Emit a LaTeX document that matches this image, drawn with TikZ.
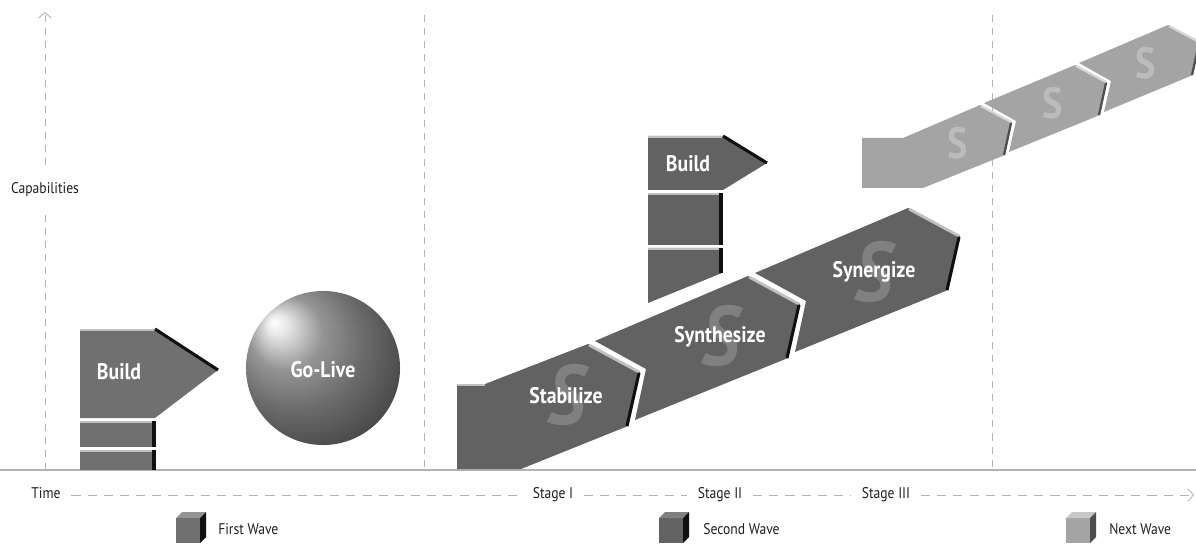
\documentclass[tikz,border=0pt]{standalone}
\usepackage{fontspec}
\setmainfont{PT Sans}[FakeStretch=0.88]
\usetikzlibrary{arrows.meta}

\definecolor{firstgray}{RGB}{112,112,112}
\definecolor{secondgray}{RGB}{98,98,98}
\definecolor{nextgray}{RGB}{164,164,164}
\definecolor{seconds}{RGB}{128,128,128}
\definecolor{nexts}{RGB}{188,188,188}
\definecolor{rimlight}{RGB}{192,192,192}
\definecolor{nextrim}{RGB}{214,214,214}
\definecolor{rimdark}{RGB}{16,16,16}
\definecolor{nextdark}{RGB}{78,78,78}
\definecolor{guidegray}{RGB}{178,178,178}

\pgfdeclareradialshading{sphereshade}{\pgfpoint{-16bp}{15bp}}{%
  color(0bp)=(white); color(3bp)=(black!8); color(12bp)=(black!42);
  color(22bp)=(black!58); color(34bp)=(black!73); color(50bp)=(black!86)}

\begin{document}
\begin{tikzpicture}[x=0.025cm, y=-0.025cm,
    guide/.style={guidegray, line width=0.6pt, dash pattern=on 5pt off 4.3pt},
    timeline/.style={guidegray, line width=0.6pt, dash pattern=on 6.5pt off 5pt},
    axislabel/.style={text=black!88, font=\fontsize{11}{13}\selectfont, inner xsep=7.5pt, inner ysep=2pt, text height=8pt, text depth=2.5pt},
    legendlabel/.style={text=black!88, font=\fontsize{11}{13}\selectfont, anchor=west, inner sep=0pt},
    blocklabel/.style={text=white, font=\fontsize{16}{18}\selectfont\bfseries, inner sep=0pt},
    bigS/.style={text=seconds, font=\fontsize{60}{60}\selectfont\bfseries\itshape, inner sep=0pt},
    smallS/.style={text=nexts, font=\fontsize{31}{31}\selectfont\bfseries, inner sep=0pt},
    toprim/.style={rimlight, line width=2pt},
    siderim/.style={rimdark, line width=2.2pt},
    nexttop/.style={nextrim, line width=1.6pt},
    nextside/.style={nextdark, line width=1.6pt},
    barb/.style={-{Straight Barb[length=4pt, width=9pt, line width=0.6pt]}}
]
\useasboundingbox (0,0) rectangle (1196,544);

% Capabilities axis and stage guides
\coordinate (ybase) at (45,470);
\coordinate (ytop) at (45,12);
\node[axislabel, inner ysep=12pt] (capab) at (45,190) {Capabilities};
\draw[guide] (ybase) -- (capab.south);
\draw[guide, barb] (capab.north) -- (ytop);
\draw[guide] (424,15) -- (424,470);
\draw[guide] (992,15) -- (992,470);
\draw[guidegray, line width=1pt] (0,470) -- (1196,470);

% Time line
\node[axislabel] (time) at (46,495) {Time};
\node[axislabel] (stage1) at (553,495) {Stage I};
\node[axislabel] (stage2) at (720,495) {Stage II};
\node[axislabel] (stage3) at (886,495) {Stage III};
\coordinate (tend) at (1194,495);
\draw[timeline] (time) -- (stage1);
\draw[timeline] (stage1) -- (stage2);
\draw[timeline] (stage2) -- (stage3);
\draw[timeline, barb] (stage3) -- (tend);

% First wave: Build on two bricks
\fill[firstgray] (80,329) -- (155,329) -- (218,370) -- (155,418) -- (80,418) -- cycle;
\draw[toprim] (80,330) -- (155,330);
\draw[siderim] (155,329) -- (218,370);
\foreach \ya/\yb in {421/447, 450/470} {
  \fill[firstgray] (80,\ya) rectangle (155,\yb);
  \draw[toprim] (80,\ya+1) -- (153,\ya+1);
  \draw[siderim] (154,\ya) -- (154,\yb);
}
\node[blocklabel] (build1) at (119,372) {Build};

% Go-Live sphere
\shade[shading=sphereshade] (323,368) circle (1.925cm);
\node[blocklabel] (golive) at (323,370) {Go-Live};

% Second wave: Stabilize
\fill[secondgray] (457,384) -- (485,384) -- (588,344) -- (640,372) -- (628,426) -- (521,469) -- (457,469) -- cycle;
\draw[toprim] (457,385) -- (485,385);
\draw[toprim] (589,345) -- (639,372);
\draw[siderim] (639,373) -- (627,426);
\node[bigS] (s1) at (566,395) {S};
\node[blocklabel] (stab) at (566,396) {Stabilize};

% Synthesize
\fill[secondgray] (595,341) -- (748,276) -- (800,304) -- (788,358) -- (635,420) -- (646,369) -- cycle;
\draw[toprim] (749,277) -- (799,304);
\draw[siderim] (799,305) -- (787,358);
\node[bigS] (s2) at (720,336) {S};
\node[blocklabel] (synth) at (720,337) {Synthesize};

% Synergize
\fill[secondgray] (755,273) -- (908,208) -- (960,236) -- (948,290) -- (795,352) -- (806,301) -- cycle;
\draw[toprim] (909,209) -- (959,236);
\draw[siderim] (959,237) -- (947,290);
\node[bigS] (s3) at (873,272) {S};
\node[blocklabel] (syn) at (874,272) {Synergize};

% Second wave: Build on two bricks
\fill[secondgray] (648,136) -- (723,136) -- (767,163) -- (723,190) -- (648,190) -- cycle;
\draw[toprim] (648,137) -- (723,137);
\draw[siderim] (723,136) -- (767,163);
\fill[secondgray] (648,193) rectangle (722,245);
\fill[secondgray] (648,248) -- (722,248) -- (722,273) -- (648,303) -- cycle;
\draw[toprim] (648,194) -- (721,194);
\draw[toprim] (648,249) -- (721,249);
\draw[siderim] (721,193) -- (721,245);
\draw[siderim] (721,248) -- (721,273);
\node[blocklabel] (build2) at (688,164) {Build};

% Next wave
\fill[nextgray] (862,138) -- (903,138) -- (980,105) -- (1012,122) -- (1005,155) -- (923,188) -- (862,188) -- cycle;
\draw[nexttop] (981,106) -- (1011,122);
\draw[nextside] (1011,123) -- (1004,155);
\node[smallS] (n1) at (958,143) {S};

\fill[nextgray] (984,103) -- (1075,65) -- (1107,82) -- (1100,115) -- (1009,152) -- (1016,121) -- cycle;
\draw[nexttop] (1076,66) -- (1106,82);
\draw[nextside] (1106,83) -- (1099,115);
\node[smallS] (n2) at (1053,103) {S};

\fill[nextgray] (1079,63) -- (1168,25) -- (1200,42) -- (1193,75) -- (1104,112) -- (1111,81) -- cycle;
\draw[nexttop] (1169,26) -- (1199,42);
\draw[nextside] (1199,43) -- (1192,75);
\node[smallS] (n3) at (1146,63) {S};

% Legend
\foreach \cx/\front/\lid/\side in {176/firstgray/black!42/rimdark, 659/secondgray/black!50/rimdark, 1066/nextgray/black!22/nextdark} {
  \fill[\front] (\cx,518) rectangle (\cx+24,543);
  \fill[\lid] (\cx,518) -- (\cx+6,512) -- (\cx+30,512) -- (\cx+24,518) -- cycle;
  \fill[\side] (\cx+24,518) -- (\cx+30,512) -- (\cx+30,537) -- (\cx+24,543) -- cycle;
}
\node[legendlabel] (wave1) at (218,529) {First Wave};
\node[legendlabel] (wave2) at (703,529) {Second Wave};
\node[legendlabel] (wave3) at (1109,529) {Next Wave};
\end{tikzpicture}
\end{document}
